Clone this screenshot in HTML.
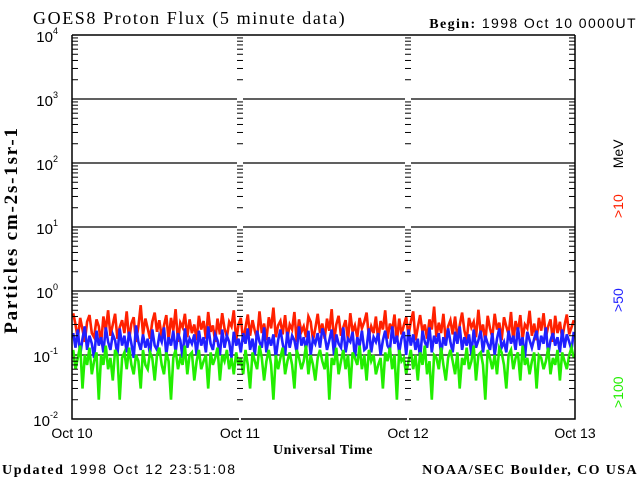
<!DOCTYPE html>
<html><head><meta charset="utf-8"><style>
body{margin:0;background:#fff;width:640px;height:480px;overflow:hidden}
svg{display:block}
.s{font-family:"Liberation Sans",sans-serif}
.r{font-family:"Liberation Serif",serif}
</style></head><body>
<svg id="c" width="640" height="480">
<text x="33" y="24" class="r" font-size="18" letter-spacing="1.6">GOES8 Proton Flux (5 minute data)</text>
<text x="637" y="28" text-anchor="end" font-size="14" letter-spacing="1.4"><tspan class="r" font-weight="bold">Begin:</tspan><tspan class="s"> 1998 Oct 10 0000UT</tspan></text>
<text transform="translate(17,230) rotate(-90)" text-anchor="middle" class="r" font-weight="bold" font-size="19" letter-spacing="1.8">Particles cm-2s-1sr-1</text>
<text x="323" y="454" text-anchor="middle" class="r" font-weight="bold" font-size="14" letter-spacing="0.6">Universal Time</text>
<text x="2" y="474" font-size="14" letter-spacing="1.6"><tspan class="r" font-weight="bold">Updated</tspan><tspan class="s"> 1998 Oct 12 23:51:08</tspan></text>
<text x="638" y="474" text-anchor="end" class="r" font-weight="bold" font-size="14" letter-spacing="1.4">NOAA/SEC Boulder, CO USA</text>
<text transform="translate(623,218) rotate(-90)" class="s" font-size="14"><tspan fill="#ff2000">&gt;10</tspan><tspan fill="#000" dx="26">MeV</tspan></text>
<text transform="translate(623,312) rotate(-90)" class="s" font-size="14" fill="#2020ff">&gt;50</text>
<text transform="translate(623,408) rotate(-90)" class="s" font-size="14" fill="#22ee00">&gt;100</text>
<g id="grid"></g><g id="series"></g><g id="frame"></g>
</svg>
<script>
const dayLabels=["Oct 10","Oct 11","Oct 12","Oct 13"];
const decades=[-2,-1,0,1,2,3,4];
const red=[45,30,18,38,25,16,33,42,22,19,36,28,15,40,24,50,20,30,
44,18,27,35,22,48,17,31,39,16,28,60,21,37,26,18,33,46,
23,35,19,29,42,17,38,24,52,16,32,27,44,19,36,22,30,17,
41,25,34,18,47,23,29,16,37,21,45,26,19,33,28,50,17,30,
38,16,27,43,20,35,24,18,48,22,31,17,39,26,55,19,29,34,
21,42,18,30,25,47,16,36,23,28,19,40,33,17,26,44,22,31,
18,37,24,52,16,30,41,20,27,35,17,45,23,29,19,38,26,33,
46,19,28,22,40,17,34,25,50,18,31,24,43,16,37,21,29,39,
20,33,48,17,27,42,23,30,18,36,25,57,19,32,22,44,16,28,
35,21,40,18,29,46,24,17,38,27,33,19,51,22,30,16,41,26,
19,44,25,32,17,39,28,21,47,16,34,23,42,18,30,26,49,20,
31,17,38,24,45,19,28,36,16,41,22,33,18,29,43,21,27,35];
const blue=[22,13,25,10,18,28,12,20,15,9,24,14,19,11,27,16,12,21,
17,10,26,14,20,11,23,15,9,29,16,12,21,13,18,10,25,14,
12,20,16,27,10,19,14,24,11,22,17,9,26,13,18,15,21,10,
24,14,19,11,28,15,12,21,17,10,25,13,20,16,9,23,14,18,
11,22,15,26,12,18,10,24,16,13,27,11,19,14,21,9,17,25,
15,10,23,13,20,17,11,28,14,19,12,24,10,18,15,22,13,26,
20,12,17,25,10,21,15,13,27,11,18,16,23,9,19,14,24,12,
13,26,11,19,16,22,10,17,24,14,12,28,15,20,11,18,23,10,
25,14,21,12,18,9,24,16,13,27,11,20,15,22,10,19,14,26,
16,11,23,15,28,12,19,14,21,10,25,13,17,24,11,20,15,12,
22,10,18,26,13,16,11,24,15,20,12,27,14,19,9,23,17,13,
18,24,12,20,15,27,10,17,22,14,19,11,25,13,21,16,12,23];
const green=[12,6,9,14,3,10,7,13,5,8,11,2,10,7,14,6,9,4,
12,10,2,9,11,6,13,7,5,10,8,3,12,7,6,11,9,4,
10,13,7,5,11,8,2,9,12,6,9,7,14,5,10,11,4,8,
12,6,8,10,3,11,7,9,13,4,10,8,12,6,9,5,11,7,
9,5,12,7,3,11,8,6,14,9,4,8,12,7,2,10,6,9,
13,5,8,11,7,3,12,9,6,8,14,5,10,7,4,9,12,8,
6,11,2,9,7,13,5,8,12,6,10,3,11,9,7,14,6,10,
4,12,8,10,5,7,9,3,11,8,13,6,10,2,12,8,9,5,
8,12,6,10,4,11,7,14,5,8,2,10,9,6,13,7,4,9,
12,8,5,11,3,9,7,13,6,8,14,4,10,11,7,2,12,9,
6,10,5,13,11,7,3,10,12,6,9,11,4,14,7,9,5,8,
11,3,10,9,6,8,13,5,9,7,12,4,11,8,6,10,13,9];
const X0=72,X1=575,Y0=35,DEC=64,NS="http://www.w3.org/2000/svg";
const xs=i=>X0+(i+0.5)*(X1-X0)/red.length;
const ys=v=>Y0+(4-Math.log10(v))*DEC;
function mk(t,a,p){const e=document.createElementNS(NS,t);for(const k in a)e.setAttribute(k,a[k]);p.appendChild(e);return e;}
const grid=document.getElementById('grid'),ser=document.getElementById('series'),fr=document.getElementById('frame');
const days=[X0,240,408,X1];
decades.forEach(d=>{const y=ys(Math.pow(10,d));
 if(d>-2&&d<4){for(let k=0;k<3;k++){const l=mk('line',{x1:days[k]+(k?3:0),x2:days[k+1]-(k<2?3:0),y1:y,y2:y,stroke:'#000','stroke-width':1.3},grid);
  
  }}
 const t=mk('text',{x:58,y:y+7,'text-anchor':'end','font-size':15,class:'s'},fr);
 
 
 t.textContent='10';
 const s=mk('tspan',{dy:-8,'font-size':9},t);s.textContent=String(d);
 if(d<4){for(let m=2;m<10;m++){const yy=ys(m*Math.pow(10,d));
  mk('line',{x1:X0,x2:X0+6,y1:yy,y2:yy,stroke:'#000'},fr);
  mk('line',{x1:X1-6,x2:X1,y1:yy,y2:yy,stroke:'#000'},fr);
  [240,408].forEach(xd=>mk('line',{x1:xd-3,x2:xd+3,y1:yy,y2:yy,stroke:'#000'},fr));}}
});
function series(arr,col,name){const pts=arr.map((v,i)=>xs(i).toFixed(1)+','+ys(v/100).toFixed(1)).join(' ');
 const p=mk('polyline',{points:pts,fill:'none',stroke:col,'stroke-width':2.6,'stroke-linejoin':'miter'},ser);
 
 }
series(red,'#ff2000','series-10mev');series(blue,'#2020ff','series-50mev');series(green,'#22ee00','series-100mev');
mk('line',{x1:X0,x2:X1,y1:Y0,y2:Y0,stroke:'#000','stroke-width':1.5},fr);
const ax=mk('path',{d:`M${X0},${Y0}V419H${X1}V${Y0}`,fill:'none',stroke:'#000','stroke-width':1.5},fr);


[240,408].forEach(xd=>mk('line',{x1:xd,x2:xd,y1:415,y2:421,stroke:'#fff','stroke-width':2},fr));
dayLabels.forEach((l,i)=>{const t=mk('text',{x:days[i],y:438,'text-anchor':'middle','font-size':14,class:'s'},fr);
 
 
 t.textContent=l;});
</script>
</body></html>
